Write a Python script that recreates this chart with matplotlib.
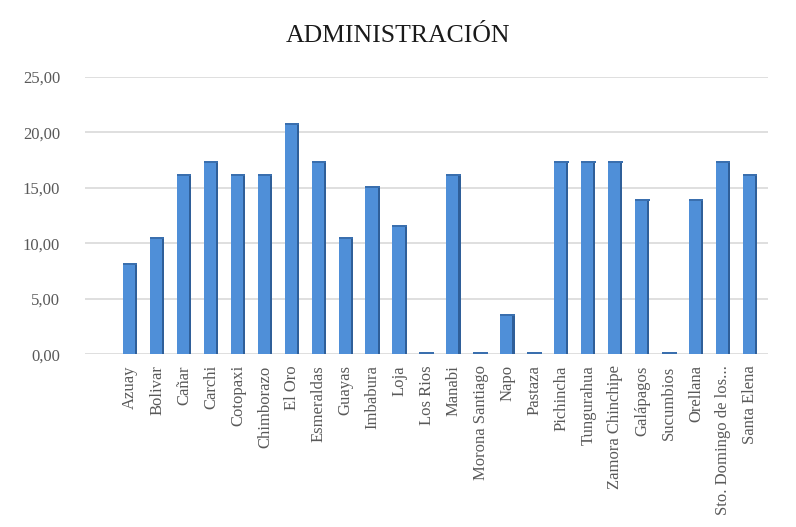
import matplotlib.pyplot as plt
import numpy as np

# Porcentaje por provincia - administración
provincias = ["Azuay", "Bolivar", "Cañar", "Carchi", "Cotopaxi", "Chimborazo",
              "El Oro", "Esmeraldas", "Guayas", "Imbabura", "Loja", "Los Rios",
              "Manabi", "Morona Santiago", "Napo", "Pastaza", "Pichincha",
              "Tungurahua", "Zamora Chinchipe", "Galápagos", "Sucumbios",
              "Orellana", "Sto. Domingo de los...", "Santa Elena"]
valores = [8.05, 10.34, 16.09, 17.24, 16.09, 16.09,
           20.69, 17.24, 10.34, 14.94, 11.49, 0.0,
           16.09, 0.0, 3.45, 0.0, 17.24,
           17.24, 17.24, 13.79, 0.0,
           13.79, 17.24, 16.09]
yticks = [0, 5, 10, 15, 20, 25]

plt.rcParams['font.family'] = ['Liberation Serif', 'DejaVu Serif']

fig = plt.figure(figsize=(7.96, 5.27), dpi=100)
ax = fig.add_axes([0.107, 0.328, 0.858, 0.526])

x = np.arange(len(provincias))
v = np.array(valores)
# cara frontal y lateral oscura para dar relieve a las barras
ax.bar(x - 0.04, v, width=0.46, color="#4F8FD8", zorder=3)
ax.bar(x + 0.22, v, width=0.08, color="#2F5F99", zorder=3)
# tapa de las barras (visible también cuando el valor es cero)
ax.bar(x, np.full(len(v), 0.18), bottom=v, width=0.54, color="#3A6FAE", zorder=4)

ax.set_xlim(-1.67, 23.67)
ax.set_ylim(0, 25)
ax.set_yticks(yticks)
ax.set_yticklabels([f"{t:.2f}".replace(".", ",") for t in yticks])
ax.set_xticks(x)
ax.set_xticklabels(provincias, rotation=90, ha="center", va="top")

ax.grid(axis="y", color="#d9d9d9", linewidth=1.2, zorder=0)
for s in ax.spines.values():
    s.set_visible(False)
ax.tick_params(axis="both", length=0, labelsize=12, colors="#595959")
ax.tick_params(axis="y", pad=18)
ax.tick_params(axis="x", pad=8)

fig.suptitle("ADMINISTRACIÓN", y=0.952, fontsize=18.5, color="#1a1a1a")

fig.savefig("out.png", dpi=100)
